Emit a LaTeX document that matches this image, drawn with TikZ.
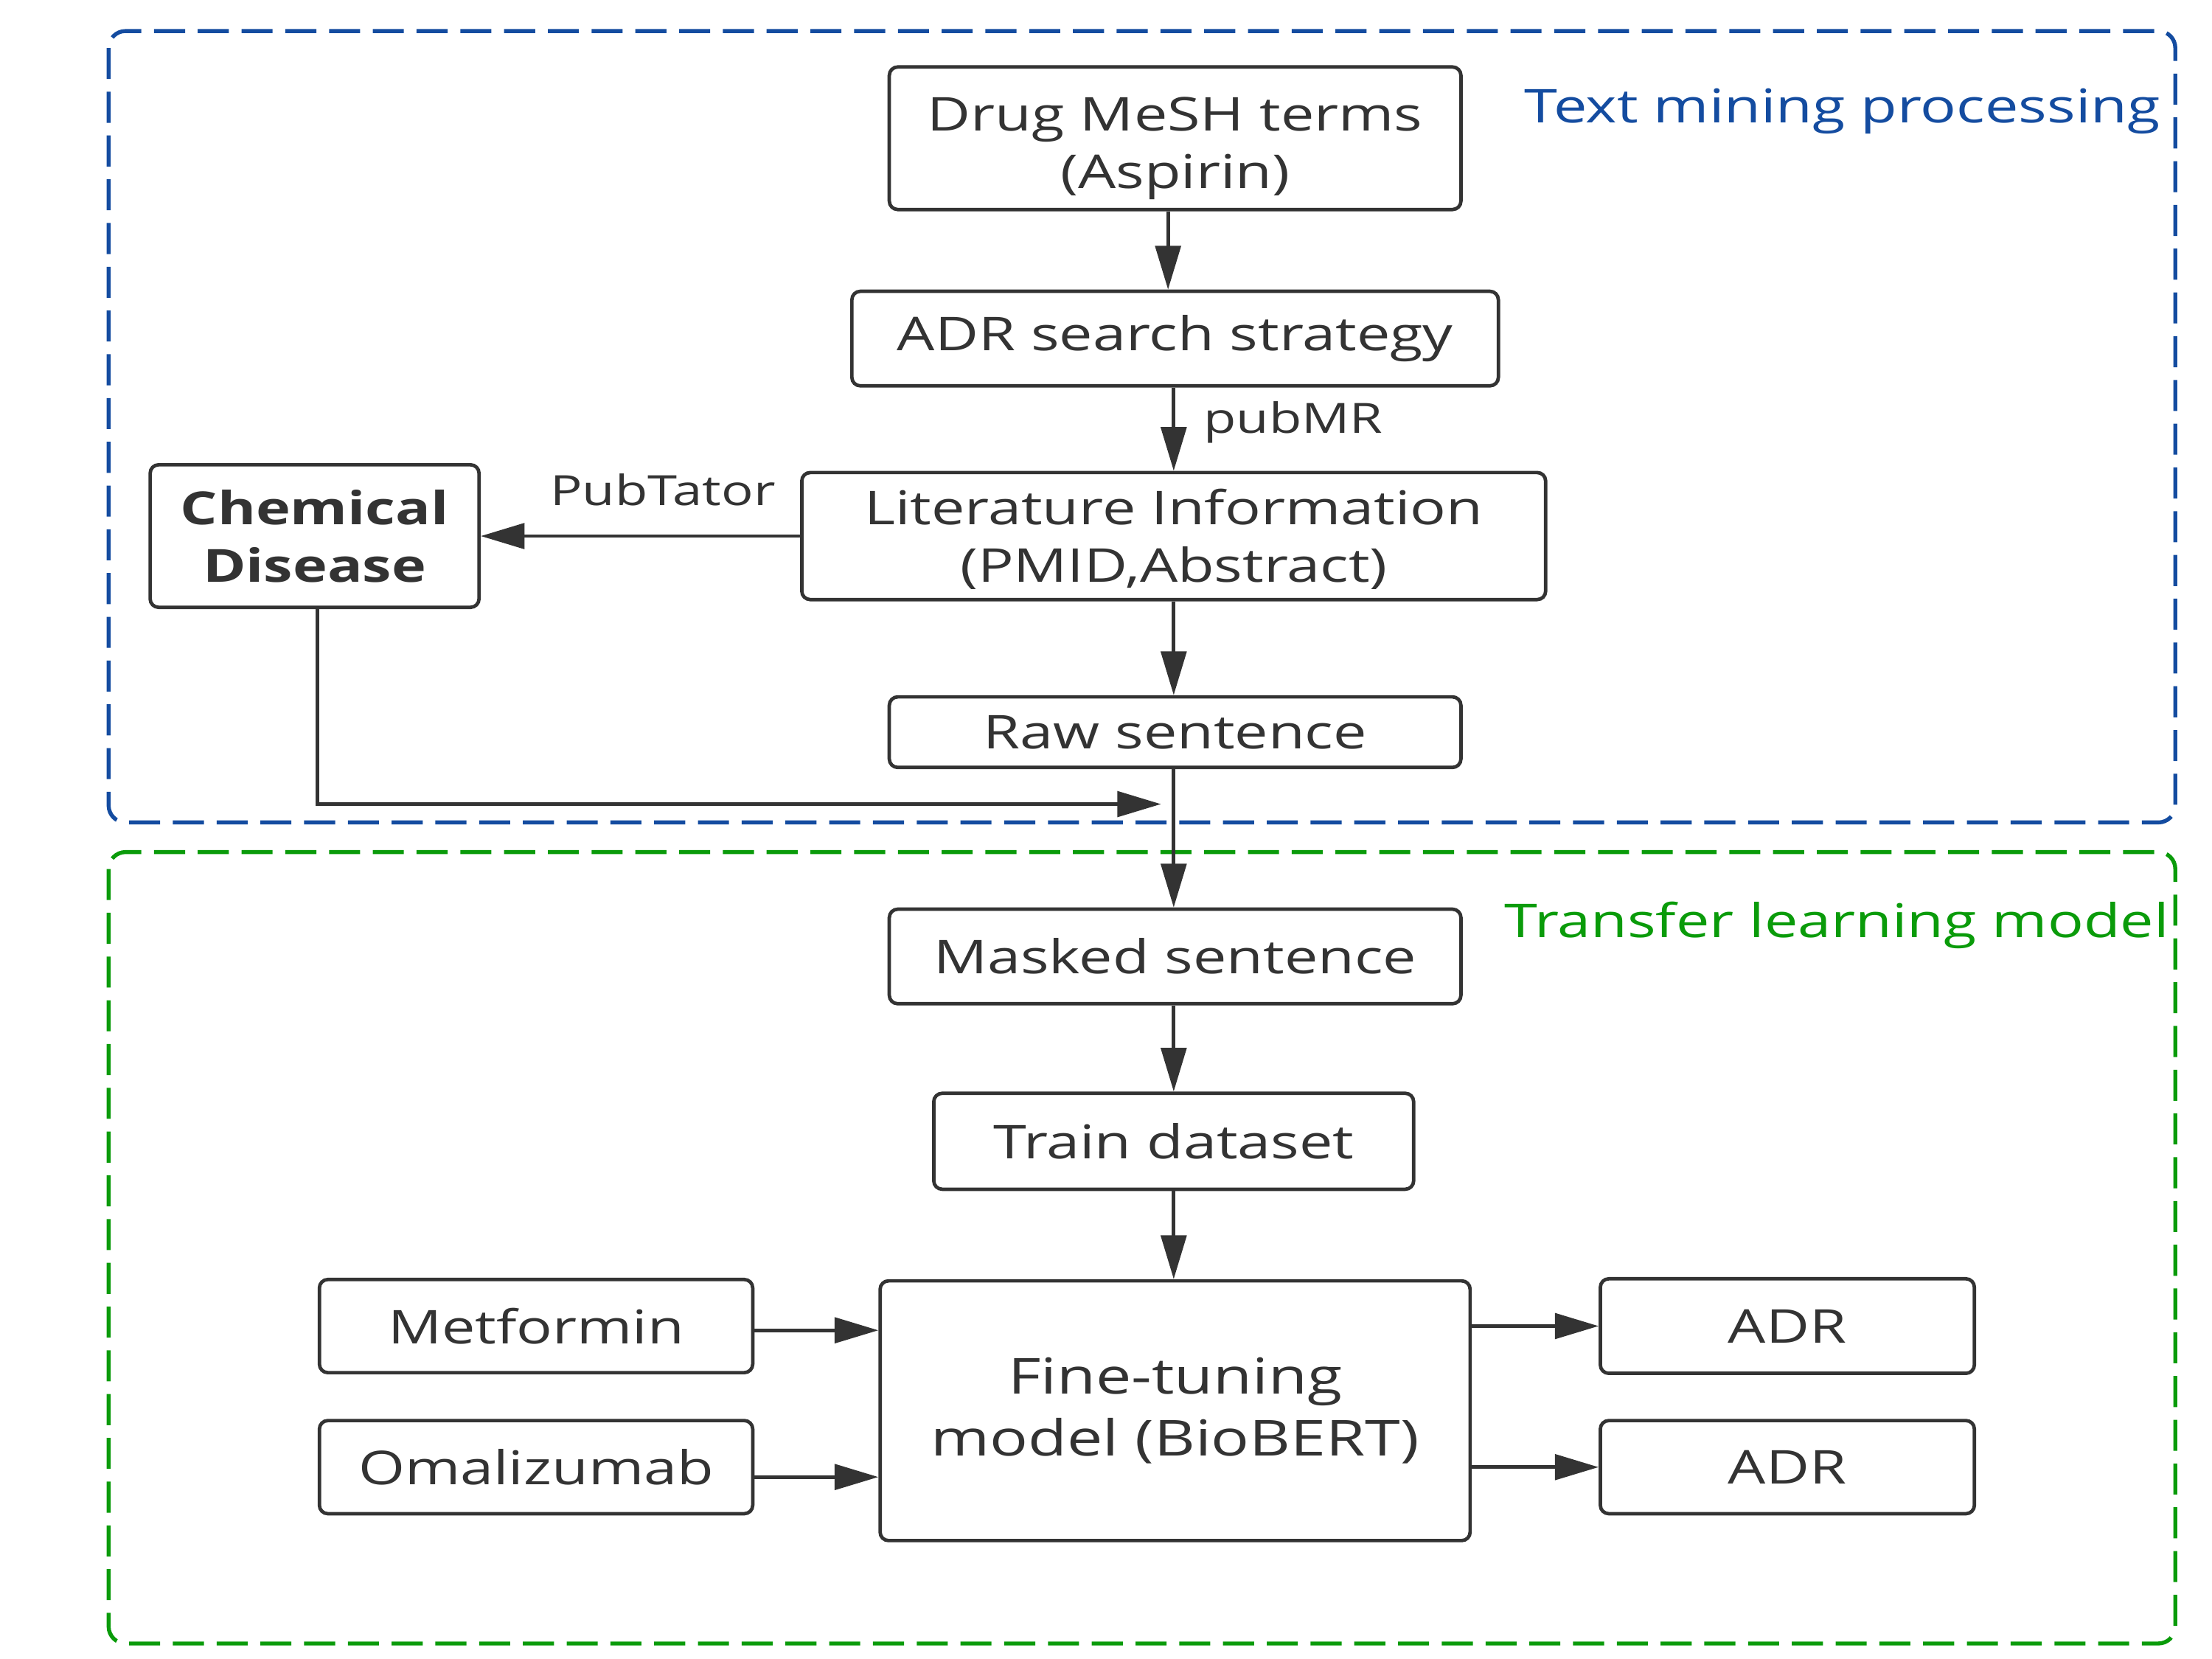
\documentclass[tikz,border=0pt]{standalone}
\usepackage{fontspec}
\setmainfont{Open Sans}[FakeStretch=1.28]
\usetikzlibrary{arrows.meta,calc}
\definecolor{ink}{RGB}{51,51,51}
\definecolor{tblue}{RGB}{20,76,160}
\definecolor{tgreen}{RGB}{10,155,10}
\begin{document}
\begin{tikzpicture}[x=0.01cm,y=-0.01cm,
  box/.style={draw=ink,line width=0.7pt,rounded corners=0.06cm,inner sep=0pt,align=center,text=ink,font=\fontsize{9.4}{11.6}\selectfont},
  conn/.style={draw=ink,line width=0.7pt,-{Triangle[length=0.31cm,width=0.18cm]}},
  lbl/.style={text=ink,font=\fontsize{8.4}{10}\selectfont,inner sep=0pt},
  region/.style={line width=0.8pt,rounded corners=0.12cm,dash pattern=on 0.22cm off 0.09cm},
  title/.style={font=\fontsize{9.4}{11}\selectfont,inner sep=0pt}]
\useasboundingbox (0,0) rectangle (1568,1176);
\draw[region,draw=tblue] (77,22) rectangle (1542,583);
\draw[region,draw=tgreen] (77,604) rectangle (1542,1165);
\node[title,text=tblue] (t1) at (1306,79) {Text mining processing};
\node[title,text=tgreen] (t2) at (1302,656) {Transfer learning model};

\node[box,minimum width=4.05cm,minimum height=1.01cm] (drug) at (833,98) {\rule{0pt}{11pt}Drug MeSH terms\\(Aspirin)};
\node[box,minimum width=4.58cm,minimum height=0.67cm] (adr) at (833,240) {ADR search strategy};
\node[box,minimum width=5.27cm,minimum height=0.90cm] (lit) at (832,380) {\rule{0pt}{8.5pt}Literature Information\\(PMID,Abstract)};
\node[box,minimum width=2.33cm,minimum height=1.01cm,font=\fontsize{9.2}{11.6}\selectfont\bfseries] (chem) at (223,380) {Chemical\\Disease};
\node[box,minimum width=4.05cm,minimum height=0.50cm] (raw) at (833,519) {Raw sentence};
\node[box,minimum width=4.05cm,minimum height=0.67cm] (mask) at (833,678) {Masked sentence};
\node[box,minimum width=3.40cm,minimum height=0.68cm] (train) at (832,809) {Train dataset};
\node[box,minimum width=4.18cm,minimum height=1.84cm,font=\fontsize{10}{12.4}\selectfont] (fine) at (833,1000) {Fine-tuning\\model (BioBERT)};
\node[box,minimum width=3.07cm,minimum height=0.66cm] (met) at (380,940) {Metformin};
\node[box,minimum width=3.07cm,minimum height=0.66cm] (oma) at (380,1040) {Omalizumab};
\node[box,minimum width=2.65cm,minimum height=0.67cm] (adr1) at (1267,940) {ADR};
\node[box,minimum width=2.65cm,minimum height=0.66cm] (adr2) at (1267,1040) {ADR};

\coordinate (tip) at (823,570);

\draw[conn] ([xshift=-0.05cm]drug.south) -- ([xshift=-0.05cm]drug.south |- adr.north);
\draw[conn] ([xshift=-0.01cm]adr.south) -- ([xshift=-0.01cm]adr.south |- lit.north) node[lbl,pos=0.42,right=0.2cm] (pub) {pubMR};
\draw[conn] (lit.west) -- (chem.east) node[lbl,pos=0.43,above=0.2cm] (ptat) {PubTator};
\draw[conn] (lit.south) -- (lit.south |- raw.north);
\draw[conn] ([xshift=0.02cm]chem.south) |- (tip);
\draw[conn] ([xshift=-0.01cm]raw.south) -- ([xshift=-0.01cm]raw.south |- mask.north);
\draw[conn] ([xshift=-0.01cm]mask.south) -- ([xshift=-0.01cm]mask.south |- train.north);
\draw[conn] (train.south) -- (train.south |- fine.north);
\draw[conn] ([yshift=-0.03cm]met.east) -- ([yshift=-0.03cm]met.east -| fine.west);
\draw[conn] ([yshift=-0.07cm]oma.east) -- ([yshift=-0.07cm]oma.east -| fine.west);
\draw[conn] (fine.east |- adr1) -- (adr1.west);
\draw[conn] (fine.east |- adr2) -- (adr2.west);
\end{tikzpicture}
\end{document}
